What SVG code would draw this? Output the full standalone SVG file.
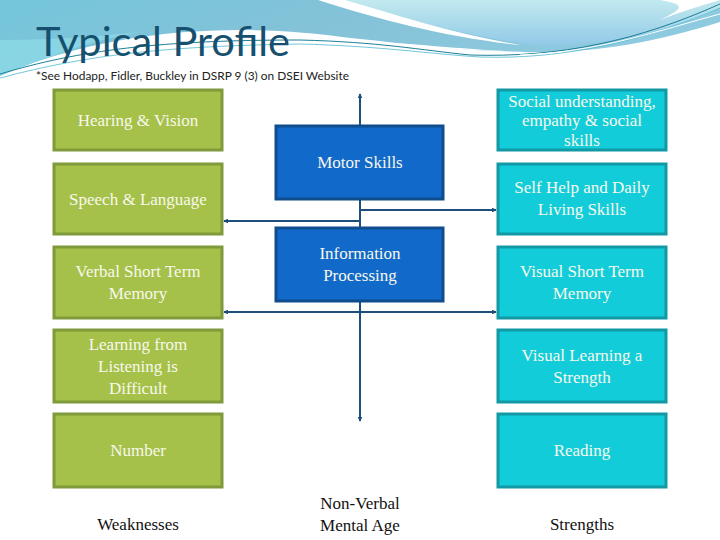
<svg xmlns="http://www.w3.org/2000/svg" width="720" height="540" viewBox="0 0 720 540">
  <defs>
    <linearGradient id="gBlue" x1="0" y1="0" x2="1" y2="0.3">
      <stop offset="0" stop-color="#74c6da"/>
      <stop offset="0.5" stop-color="#84c2d8"/>
      <stop offset="1" stop-color="#8fcbe0"/>
    </linearGradient>
    <linearGradient id="gLight" x1="0" y1="0" x2="0" y2="1">
      <stop offset="0" stop-color="#c2e9ef"/>
      <stop offset="1" stop-color="#90c9e6"/>
    </linearGradient>
    <marker id="arr" viewBox="0 0 6 6" refX="5" refY="3" markerWidth="2.4" markerHeight="2.4" orient="auto-start-reverse">
      <path d="M0,0 L6,3 L0,6 Z" fill="#1d4f7a"/>
    </marker>
    <style>
      .g rect{fill:#a5c14a;stroke:#7e9a3a;stroke-width:3}
      .c rect{fill:#12cdd9;stroke:#1399a6;stroke-width:3}
      .b rect{fill:#1169c9;stroke:#0f4d8c;stroke-width:3}
      .t{font-family:"Liberation Serif","DejaVu Serif",serif;font-size:17px;fill:#f8f8ec;text-anchor:middle;dominant-baseline:central}
      .k{font-family:"Liberation Serif","DejaVu Serif",serif;font-size:17px;fill:#111;text-anchor:middle;dominant-baseline:central}
      .con line{stroke:#1d4f7a;stroke-width:2}
    </style>
  </defs>

  <rect width="720" height="540" fill="#ffffff"/>

  <!-- decorative header waves -->
  <g id="header-bg">
    <path d="M0,0 H720 V22 C650,44 585,54 525,52 C450,50 410,44 350,38 C240,22 110,28 0,76 Z" fill="url(#gBlue)"/>
    <path d="M0,40 C60,40 100,36 140,32 C90,40 40,60 0,76 Z" fill="#8fdde8" opacity="0.7"/>
    <path d="M350,40 C420,44 470,50 525,52 C470,50 420,48 350,40 Z" fill="#ffffff"/>
    <path d="M340,0 H720 V8 C680,28 620,44 545,46 C470,38 400,18 340,0 Z" fill="url(#gLight)"/>
    <path d="M318,0 L345,0 C400,16 455,34 520,45 C450,38 380,20 318,0 Z" fill="#ffffff"/>
    <path d="M660,0 H720 C700,6 680,12 660,20 C680,10 690,5 660,0 Z" fill="#ffffff"/>
    <path d="M0,74 C80,50 160,40 300,40 C380,42 420,50 470,55 C560,58 640,40 720,4" fill="none" stroke="#1d7f98" stroke-width="1"/>
    <path d="M0,78 C90,54 170,46 300,44 C380,46 430,54 480,57 C570,60 650,38 720,8" fill="none" stroke="#4fb9cf" stroke-width="0.8"/>
    <path d="M520,55 C600,52 660,30 720,14" fill="none" stroke="#ffffff" stroke-width="1"/>
  </g>

  <text x="36" y="56" font-family="Lato,'Open Sans',sans-serif" font-size="40" fill="#17506e" textLength="254" lengthAdjust="spacingAndGlyphs">Typical Profile</text>
  <text x="36" y="80" font-family="Lato,'Open Sans',sans-serif" font-size="11" fill="#222" textLength="313" lengthAdjust="spacingAndGlyphs">*See Hodapp, Fidler, Buckley in DSRP 9 (3) on DSEI Website</text>

  <!-- connectors -->
  <g id="connectors" class="con">
    <line x1="360" y1="125" x2="360" y2="94" marker-end="url(#arr)"/>
    <line x1="360" y1="199" x2="360" y2="228"/>
    <line x1="360" y1="210" x2="496" y2="210" marker-end="url(#arr)"/>
    <line x1="360" y1="221" x2="224" y2="221" marker-end="url(#arr)"/>
    <line x1="360" y1="301" x2="360" y2="421" marker-end="url(#arr)"/>
    <line x1="360" y1="312" x2="224" y2="312" marker-end="url(#arr)"/>
    <line x1="360" y1="312" x2="496" y2="312" marker-end="url(#arr)"/>
  </g>

  <!-- weaknesses -->
  <g id="hearing" class="g"><rect x="54" y="90" width="168" height="60"/><text class="t" x="138" y="120">Hearing &amp; Vision</text></g>
  <g id="speech" class="g"><rect x="54" y="164" width="168" height="70"/><text class="t" x="138" y="199">Speech &amp; Language</text></g>
  <g id="verbal-stm" class="g"><rect x="54" y="247" width="168" height="71"/><text class="t" x="138" y="271">Verbal Short Term</text><text class="t" x="138" y="293">Memory</text></g>
  <g id="listening" class="g"><rect x="54" y="330" width="168" height="72"/><text class="t" x="138" y="344">Learning from</text><text class="t" x="138" y="366">Listening is</text><text class="t" x="138" y="388">Difficult</text></g>
  <g id="number" class="g"><rect x="54" y="414" width="168" height="73"/><text class="t" x="138" y="450">Number</text></g>

  <!-- centre -->
  <g id="motor" class="b"><rect x="276" y="126" width="167" height="73"/><text class="t" x="360" y="162">Motor Skills</text></g>
  <g id="info" class="b"><rect x="276" y="228" width="167" height="73"/><text class="t" x="360" y="253">Information</text><text class="t" x="360" y="275">Processing</text></g>

  <!-- strengths -->
  <g id="social" class="c"><rect x="498" y="90" width="168" height="60"/><text class="t" x="582" y="101" font-size="15">Social understanding,</text><text class="t" x="582" y="120" font-size="15">empathy &amp; social</text><text class="t" x="582" y="140" font-size="15">skills</text></g>
  <g id="selfhelp" class="c"><rect x="498" y="164" width="168" height="70"/><text class="t" x="582" y="187">Self Help and Daily</text><text class="t" x="582" y="209">Living Skills</text></g>
  <g id="visual-stm" class="c"><rect x="498" y="247" width="168" height="71"/><text class="t" x="582" y="271">Visual Short Term</text><text class="t" x="582" y="293">Memory</text></g>
  <g id="visual-learning" class="c"><rect x="498" y="330" width="168" height="72"/><text class="t" x="582" y="355">Visual Learning a</text><text class="t" x="582" y="377">Strength</text></g>
  <g id="reading" class="c"><rect x="498" y="414" width="168" height="73"/><text class="t" x="582" y="450">Reading</text></g>

  <g id="label-weak"><text class="k" x="138" y="524">Weaknesses</text></g>
  <g id="label-nv"><text class="k" x="360" y="503">Non-Verbal</text><text class="k" x="360" y="525">Mental Age</text></g>
  <g id="label-strong"><text class="k" x="582" y="524">Strengths</text></g>
</svg>
